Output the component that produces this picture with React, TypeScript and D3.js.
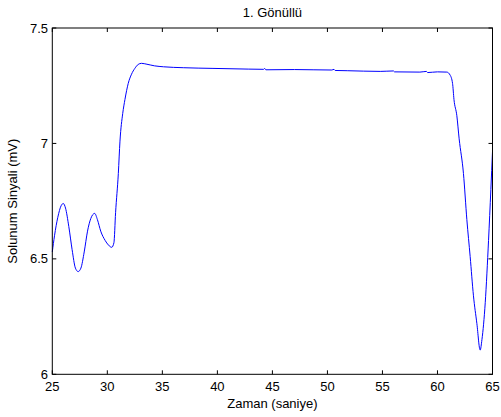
import React from "react";
import * as d3 from "d3";

const times: number[] = [
  25.0, 25.2, 25.5, 25.8, 26.0, 26.2, 26.5, 26.8, 27.1, 27.35, 27.6, 27.9, 28.2, 28.5, 28.85,
  29.1, 29.4, 29.8, 30.1, 30.4, 30.6, 30.75, 31.0, 31.15, 31.4, 31.6, 31.9, 32.2, 32.5, 32.8,
  33.1, 33.6, 34.3, 35.1, 36.9, 39.6, 42.8, 44.2, 44.3, 44.4, 47.0, 50.4, 50.6, 50.7, 51.8,
  54.8, 56.0, 56.1, 58.4, 59.0, 59.1, 60.0, 60.85, 61.15, 61.37, 61.5, 61.76, 61.97, 62.36,
  62.67, 62.97, 63.27, 63.58, 63.88, 64.04, 64.34, 64.64, 64.85, 65.0,
];
const signal: number[] = [
  6.53, 6.6, 6.68, 6.73, 6.74, 6.72, 6.64, 6.54, 6.46, 6.445, 6.46, 6.53, 6.62, 6.675, 6.697,
  6.67, 6.62, 6.58, 6.56, 6.55, 6.57, 6.7, 6.87, 7.01, 7.13, 7.19, 7.26, 7.3, 7.325, 7.342,
  7.347, 7.343, 7.336, 7.332, 7.328, 7.325, 7.322, 7.321, 7.325, 7.319, 7.32, 7.318, 7.321, 7.316, 7.315,
  7.312, 7.314, 7.31, 7.309, 7.312, 7.307, 7.31, 7.309, 7.296, 7.26, 7.19, 7.12, 7.02, 6.87,
  6.67, 6.51, 6.34, 6.22, 6.105, 6.15, 6.31, 6.58, 6.8, 6.965,
];
const xTicks: number[] = [25, 30, 35, 40, 45, 50, 55, 60, 65];
const yTicks: number[] = [6, 6.5, 7, 7.5];
const title = "1. Gönüllü";
const xLabel = "Zaman (saniye)";
const yLabel = "Solunum Sinyali (mV)";

const W = 501;
const H = 417;
const L = 52.3;
const R = 492.5;
const T = 28;
const B = 374.3;
const FONT = "'Liberation Sans', Arial, Helvetica, sans-serif";

export default function App() {
  const x = d3.scaleLinear().domain([25, 65]).range([L, R]);
  const y = d3.scaleLinear().domain([6, 7.5]).range([B, T]);
  const pts: [number, number][] = times.map((t, i) => [t, signal[i]]);
  const line = d3
    .line<[number, number]>()
    .x((d) => x(d[0]))
    .y((d) => y(d[1]))
    .curve(d3.curveMonotoneX);
  const tl = 4;
  return (
    <svg
      width={W}
      height={H}
      style={{ position: "absolute", left: 0, top: 0, background: "#fff" }}
      fontFamily={FONT}
    >
      <rect x={0} y={0} width={W} height={H} fill="#fff" />
      <path d={line(pts) || ""} fill="none" stroke="#0000ff" strokeWidth={1} />
      <rect x={L} y={T} width={R - L} height={B - T} fill="none" stroke="#000" strokeWidth={1} />
      {xTicks.map((t) => (
        <g key={"x" + t}>
          <line x1={x(t)} x2={x(t)} y1={B} y2={B - tl} stroke="#000" />
          <line x1={x(t)} x2={x(t)} y1={T} y2={T + tl} stroke="#000" />
          <text x={x(t)} y={391} fontSize={13} textAnchor="middle" fill="#000">
            {t}
          </text>
        </g>
      ))}
      {yTicks.map((t) => (
        <g key={"y" + t}>
          <line x1={L} x2={L + tl} y1={y(t)} y2={y(t)} stroke="#000" />
          <line x1={R} x2={R - tl} y1={y(t)} y2={y(t)} stroke="#000" />
          <text x={48} y={y(t) + 4.5} fontSize={13} textAnchor="end" fill="#000">
            {t}
          </text>
        </g>
      ))}
      <text x={(L + R) / 2} y={17} fontSize={13} textAnchor="middle" fill="#000">
        {title}
      </text>
      <text x={(L + R) / 2} y={408} fontSize={13} textAnchor="middle" fill="#000">
        {xLabel}
      </text>
      <text
        transform={`translate(17,${(T + B) / 2}) rotate(-90)`}
        fontSize={13}
        textAnchor="middle"
        fill="#000"
      >
        {yLabel}
      </text>
    </svg>
  );
}
